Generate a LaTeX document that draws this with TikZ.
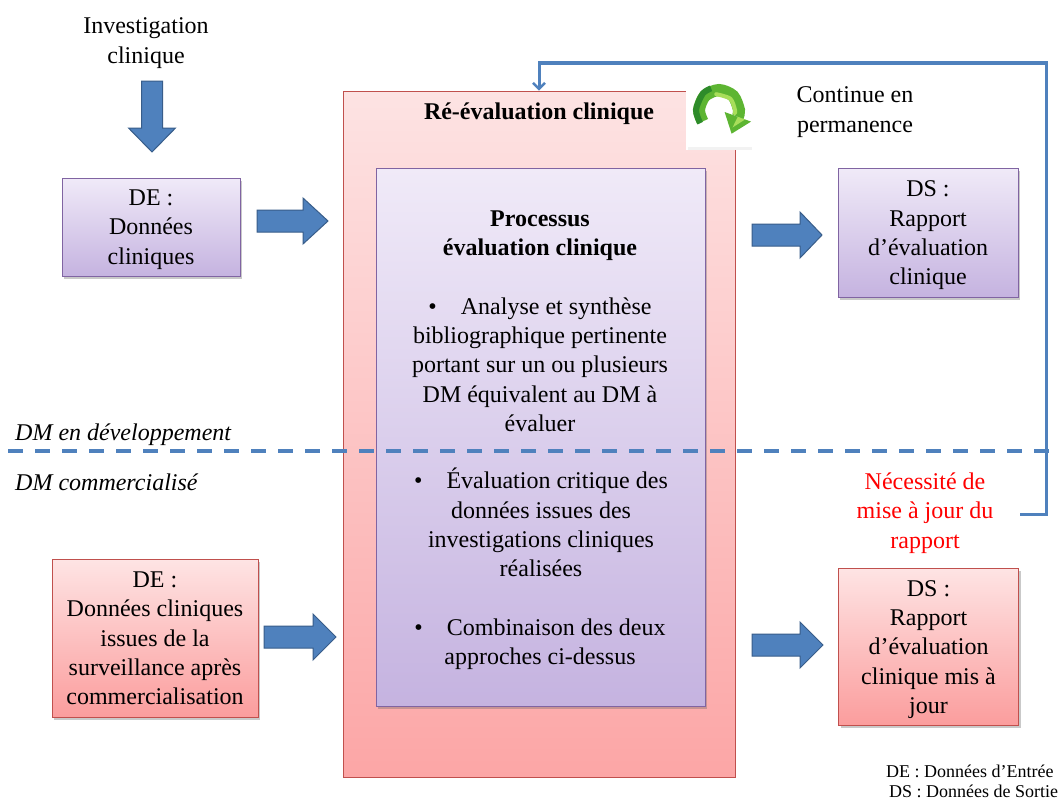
\documentclass[tikz,border=0pt]{standalone}
\usepackage{fontspec}
\setmainfont{Liberation Serif}
\usetikzlibrary{arrows.meta,shadows}
\definecolor{arrowblue}{HTML}{4F81BD}
\definecolor{arrowedge}{HTML}{385D8A}
\definecolor{purpleedge}{HTML}{8064A2}
\definecolor{purpletop}{HTML}{F0EAF8}
\definecolor{purplebot}{HTML}{C5B3E0}
\definecolor{pinkedge}{HTML}{C0504D}
\definecolor{pinktop}{HTML}{FEE4E4}
\definecolor{pinkbot}{HTML}{FB9D9D}
\definecolor{bigtop}{HTML}{FDE3E3}
\definecolor{bigbot}{HTML}{FCA6A6}
\definecolor{iconlight}{HTML}{A8DE5A}
\definecolor{iconmid}{HTML}{5DB532}
\definecolor{icondark}{HTML}{2E8B2A}
\newcommand\rblock[4]{%
  \draw[blockarrow] (#1,#4-11) -- (#2,#4-11) -- (#2,#4-23) -- (#3,#4) -- (#2,#4+23) -- (#2,#4+11) -- (#1,#4+11) -- cycle;}
\begin{document}
\begin{tikzpicture}[x=1pt,y=-1pt,
  txt/.style={align=center,font=\fontsize{24pt}{29.3pt}\selectfont,inner sep=0pt},
  boldtxt/.style={txt,font=\fontsize{24pt}{29pt}\selectfont\bfseries},
  shadowed/.style={drop shadow={shadow xshift=2pt,shadow yshift=-2.5pt,opacity=0.35,fill=black!60}},
  purplebox/.style={draw=purpleedge,line width=0.8pt,top color=purpletop,bottom color=purplebot,shadowed,inner sep=0pt},
  pinkbox/.style={draw=pinkedge,line width=0.8pt,top color=pinktop,bottom color=pinkbot,shadowed,inner sep=0pt},
  blockarrow/.style={fill=arrowblue,draw=arrowedge,line width=1pt,line join=miter},
  dashline/.style={draw=arrowblue,line width=4pt,dash pattern=on 15pt off 12pt},
  loopline/.style={draw=arrowblue,line width=3pt,-{Straight Barb[length=6pt,width=12pt,line width=2.5pt]}}]
\useasboundingbox (0,0) rectangle (1059,800);
\fill[white] (0,0) rectangle (1059,800);

% big re-evaluation box
\node[draw=pinkedge,line width=0.8pt,top color=bigtop,bottom color=bigbot,minimum width=392pt,minimum height=686pt,inner sep=0pt] (reeval) at (539,434) {};
\node[boldtxt] (reevaltitle) at (539,114) {Ré-évaluation clinique};

% inner process box
\node[purplebox,minimum width=329pt,minimum height=538pt] (process) at (540.5,437) {};
\node[boldtxt] (processtitle) at (540,235.5) {Processus\\évaluation clinique};
\node[txt] (bul1) at (540,364.5) {\textbullet\hspace{1em}Analyse et synthèse\\bibliographique pertinente\\portant sur un ou plusieurs\\DM équivalent au DM à\\évaluer};
\node[txt] (bul2) at (541,522.5) {\textbullet\hspace{1em}Évaluation critique des\\données issues des\\investigations cliniques\\réalisées};
\node[txt] (bul3) at (540,644.5) {\textbullet\hspace{1em}Combinaison des deux\\approches ci-dessus};

% input / output boxes
\node[purplebox,minimum width=178pt,minimum height=98pt] (de1) at (151,227) {};
\node[txt] (de1txt) at (151,229.5) {DE :\\Données\\cliniques};
\node[purplebox,minimum width=180pt,minimum height=129pt] (ds1) at (928,232.5) {};
\node[txt] (ds1txt) at (928,235.5) {DS :\\Rapport\\d’évaluation\\clinique};
\node[pinkbox,minimum width=206pt,minimum height=158pt] (de2) at (155,638) {};
\node[txt] (de2txt) at (155,638.5) {DE :\\Données cliniques\\issues de la\\surveillance après\\commercialisation};
\node[pinkbox,minimum width=180pt,minimum height=157pt] (ds2) at (928.5,646.5) {};
\node[txt] (ds2txt) at (928.5,649.5) {DS :\\Rapport\\d’évaluation\\clinique mis à\\jour};

% free texts
\node[txt] (invest) at (146,43) {Investigation\\clinique};
\node[txt] (continue) at (855,112) {Continue en\\permanence};
\node[txt,text=red] (necessite) at (925,513) {Nécessité de\\mise à jour du\\rapport};
\node[txt,anchor=west,font=\fontsize{24pt}{29pt}\selectfont\itshape] (dev) at (15,435) {DM en développement};
\node[txt,anchor=west,font=\fontsize{24pt}{29pt}\selectfont\itshape] (comm) at (15,482) {DM commercialisé};
\node[txt,anchor=west,font=\fontsize{18pt}{20pt}\selectfont] (legde) at (886,771) {DE : Données d’Entrée};
\node[txt,anchor=west,font=\fontsize{18pt}{20pt}\selectfont] (legds) at (889,791) {DS : Données de Sortie};

% block arrows
\draw[blockarrow] (141.5,81) -- (162.5,81) -- (162.5,128) -- (175.5,128) -- (152,152) -- (128.5,128) -- (141.5,128) -- cycle;
\rblock{257}{303}{328}{221}
\rblock{752}{800}{822}{235}
\rblock{264}{313}{336}{637}
\rblock{752}{800}{823}{645}

% dashed separation
\coordinate (dstart) at (8,451);
\coordinate (dend) at (1059,451);
\draw[dashline] (dstart) -- (dend);

% feedback loop
\coordinate (loopstart) at (1020,514);
\coordinate (loopright) at (1046,514);
\coordinate (looptop) at (1046,63);
\draw[loopline] (loopstart) -- (loopright) -- (looptop) -| (reeval.north);

% icon: green circular arrow on a white square
\fill[white] (686,84) rectangle (752,150);
\fill[black!5] (688,147) rectangle (752,150);
\draw[line width=12pt,iconmid] plot[smooth] coordinates {(702.6,121.5) (699,110) (704.9,95.9) (719,90) (733.1,95.9) (739,110) (737.8,116.8)};
\draw[line width=6pt,icondark] plot[smooth] coordinates {(700.2,123.2) (696,110) (702.7,93.7) (711.1,88.4)};
\draw[line width=4pt,iconlight,line cap=round] plot[smooth] coordinates {(716.2,94.2) (730.3,98.7) (735,110) (734.8,113)};
\fill[iconmid] (751,121.6) -- (731.6,133.7) -- (724.6,112) -- cycle;
\fill[iconlight] (745,119.5) -- (732.5,127.5) -- (737.8,116.8) -- cycle;
\end{tikzpicture}
\end{document}
